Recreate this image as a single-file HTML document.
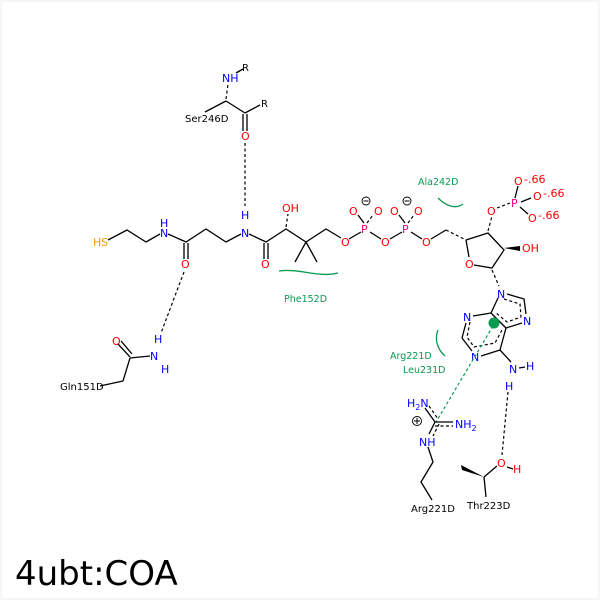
<!DOCTYPE html>
<html><head><meta charset="utf-8"><style>
body{margin:0;background:#fff}
svg{display:block}
text{font-family:"DejaVu Sans","Liberation Sans",sans-serif}
.b{stroke:#000;stroke-width:1.3;fill:none}
.d{stroke:#000;stroke-width:1.2;fill:none;stroke-dasharray:3,2.5}
.g{stroke:#0a9a50;stroke-width:1.3;fill:none}
.gd{stroke:#0a9a50;stroke-width:1.2;fill:none;stroke-dasharray:3,2.5}
.N{fill:#0000ff;font-size:11px}
.O{fill:#ff0000;font-size:11px}
.P{fill:#e0007f;font-size:11px}
.S{fill:#f0a000;font-size:11px}
.K{fill:#000;font-size:10px}
.G{fill:#0a9a50;font-size:9.5px}
</style></head><body>
<svg width="600" height="600" viewBox="0 0 600 600">
<rect x="1" y="1" width="598" height="598" fill="none" stroke="#eee"/>
<!-- Ser246D -->
<line class="b" x1="205" y1="112" x2="226" y2="101"/>
<line class="b" x1="226" y1="101" x2="245" y2="113"/>
<line class="b" x1="245" y1="113" x2="260" y2="105"/>
<line class="b" x1="243" y1="114" x2="243" y2="131"/>
<line class="b" x1="247" y1="114" x2="247" y2="131"/>
<line class="d" x1="226" y1="99" x2="228" y2="84" stroke-width="2"/>
<line class="b" x1="236" y1="73" x2="243" y2="69"/>
<text class="N" x="222" y="82">NH</text>
<text class="K" x="242" y="71" font-size="11">R</text>
<text class="K" x="261" y="107" font-size="11">R</text>
<text class="K" x="185" y="122">Ser246D</text>
<text class="O" x="241" y="140">O</text>
<line class="d" x1="245" y1="143" x2="245" y2="206"/>
<!-- main chain -->
<text class="S" x="93" y="246">HS</text>
<polyline class="b" points="108,240 127,230 146,242 160,234"/>
<text class="N" x="160" y="237">N</text><text class="N" x="160" y="227">H</text>
<polyline class="b" points="168,234 186,242 206,229 226,242 241,234"/>
<line class="b" x1="184" y1="243" x2="184" y2="259"/><line class="b" x1="188" y1="243" x2="188" y2="259"/>
<text class="O" x="181" y="268">O</text>
<text class="N" x="241" y="237">N</text><text class="N" x="241" y="219">H</text>
<polyline class="b" points="249,234 266,242 286,229 306,242 326,229 341,238"/>
<line class="b" x1="264" y1="243" x2="264" y2="259"/><line class="b" x1="268" y1="243" x2="268" y2="259"/>
<text class="O" x="261" y="268">O</text>
<line class="d" x1="286" y1="227" x2="288" y2="214" stroke-width="2.2"/>
<text class="O" x="282" y="212">OH</text>
<line class="b" x1="306" y1="242" x2="295" y2="262"/><line class="b" x1="306" y1="242" x2="317" y2="262"/>
<text class="O" x="341" y="246">O</text>
<line class="b" x1="349" y1="239" x2="361" y2="232"/>
<text class="P" x="361" y="233">P</text>
<line class="b" x1="364" y1="223" x2="358" y2="215"/><line class="d" x1="367" y1="223" x2="373" y2="215"/>
<text class="O" x="349" y="215">O</text><text class="O" x="374" y="215">O</text>
<circle cx="366" cy="201" r="4" fill="none" stroke="#000" stroke-width="0.9"/><line x1="363.5" y1="201" x2="368.5" y2="201" stroke="#000"/>
<line class="b" x1="370" y1="232" x2="381" y2="239"/>
<text class="O" x="381" y="246">O</text>
<line class="b" x1="390" y1="239" x2="402" y2="232"/>
<text class="P" x="402" y="233">P</text>
<line class="b" x1="405" y1="223" x2="399" y2="215"/><line class="d" x1="408" y1="223" x2="414" y2="215"/>
<text class="O" x="390" y="215">O</text><text class="O" x="414" y="215">O</text>
<circle cx="407" cy="201" r="4" fill="none" stroke="#000" stroke-width="0.9"/><line x1="404.5" y1="201" x2="409.5" y2="201" stroke="#000"/>
<line class="b" x1="411" y1="232" x2="422" y2="239"/>
<text class="O" x="422" y="246">O</text>
<line class="b" x1="431" y1="239" x2="446" y2="230"/>
<line class="d" x1="446" y1="230" x2="466" y2="240" stroke-width="2"/>
<!-- ribose -->
<polyline class="b" points="466,240 488,233 504,250 492,268 474,265"/>
<line class="b" x1="466" y1="240" x2="469" y2="257"/>
<text class="O" x="465" y="268">O</text>
<polygon points="504,248 520,246 520,251" fill="#000"/>
<text class="O" x="522" y="252">OH</text>
<line class="d" x1="488" y1="231" x2="492" y2="216" stroke-width="2"/>
<text class="O" x="487" y="215">O</text>
<line class="d" x1="497" y1="208" x2="510" y2="203"/>
<text class="P" x="511" y="207">P</text>
<line class="b" x1="515" y1="198" x2="518" y2="186"/>
<line class="b" x1="521" y1="202" x2="531" y2="198"/>
<line class="b" x1="520" y1="207" x2="528" y2="214"/>
<text class="O" x="514" y="185">O</text><text class="O" x="554" y="0"></text>
<text class="O" x="524" y="183" font-size="8">-.66</text>
<text class="O" x="533" y="200">O</text><text class="O" x="543" y="197" font-size="8">-.66</text>
<text class="O" x="528" y="222">O</text><text class="O" x="538" y="219" font-size="8">-.66</text>
<line class="d" x1="492" y1="270" x2="499" y2="286" stroke-width="2"/>
<!-- adenine -->
<text class="N" x="497" y="298">N</text>
<polyline class="b" points="507,294 524,299 526,314"/>
<text class="N" x="523" y="325">N</text>
<line class="b" x1="522" y1="323" x2="506" y2="328"/>
<line class="b" x1="506" y1="328" x2="491" y2="313"/>
<line class="b" x1="491" y1="313" x2="498" y2="298"/>
<line class="b" x1="491" y1="313" x2="473" y2="316"/>
<text class="N" x="463" y="321">N</text>
<line class="b" x1="466" y1="323" x2="462" y2="338"/>
<line class="b" x1="462" y1="338" x2="472" y2="351"/>
<text class="N" x="471" y="361">N</text>
<line class="b" x1="481" y1="356" x2="500" y2="350"/>
<line class="b" x1="500" y1="350" x2="506" y2="328"/>
<line class="b" x1="500" y1="350" x2="511" y2="362"/>
<polyline class="d" points="504,299 520,304 521,317 507,322 496,313"/>
<polyline class="d" points="470,322 467,337 474,347 495,343 502,330"/>
<circle cx="494" cy="323" r="5.5" fill="#0a9a50"/>
<text class="N" x="509" y="373">N</text>
<line class="b" x1="519" y1="368" x2="525" y2="367"/>
<text class="N" x="526" y="370">H</text>
<text class="N" x="505" y="390">H</text>
<line class="d" x1="508" y1="392" x2="502" y2="455"/>
<!-- Thr -->
<text class="O" x="497" y="467">O</text>
<line class="b" x1="507" y1="467" x2="513" y2="469"/>
<text class="N" x="513" y="473" style="fill:#f00">H</text>
<line class="b" x1="497" y1="466" x2="484" y2="477"/>
<polygon points="484,477 462,470 461,465" fill="#000"/>
<line class="b" x1="484" y1="477" x2="486" y2="497"/>
<text class="K" x="467" y="509">Thr223D</text>
<!-- Arg -->
<line class="gd" x1="493" y1="326" x2="436" y2="422"/>
<text class="N" x="407" y="407">H<tspan font-size="8" dy="3">2</tspan><tspan dy="-3">N</tspan></text>
<line class="b" x1="425" y1="408" x2="435" y2="422"/><line class="d" x1="429" y1="406" x2="438" y2="419"/>
<line class="b" x1="435" y1="422" x2="453" y2="422"/><line class="d" x1="435" y1="426" x2="453" y2="426"/>
<text class="N" x="455" y="428">NH<tspan font-size="8" dy="3">2</tspan></text>
<line class="b" x1="435" y1="422" x2="429" y2="434"/><line class="d" x1="439" y1="424" x2="433" y2="436"/>
<circle cx="417" cy="421" r="4.5" fill="none" stroke="#000" stroke-width="0.9"/><line x1="414" y1="421" x2="420" y2="421" stroke="#000"/><line x1="417" y1="418" x2="417" y2="424" stroke="#000"/>
<text class="N" x="419" y="446">NH</text>
<polyline class="b" points="428,447 433,462 421,482 432,500"/>
<text class="K" x="411" y="512">Arg221D</text>
<!-- Gln -->
<text class="O" x="112" y="345">O</text>
<line class="b" x1="118" y1="344" x2="130" y2="357"/><line class="b" x1="121" y1="341" x2="132" y2="354"/>
<line class="b" x1="130" y1="358" x2="150" y2="356"/>
<text class="N" x="150" y="360">N</text>
<text class="N" x="154" y="343">H</text>
<text class="N" x="161" y="373">H</text>
<line class="b" x1="130" y1="358" x2="123" y2="381"/><line class="b" x1="123" y1="381" x2="100" y2="386"/>
<text class="K" x="60" y="390">Gln151D</text>
<line class="d" x1="184" y1="272" x2="161" y2="333"/>
<!-- hydrophobic -->
<path class="g" d="M279,271 C300,268 318,278 338,273"/>
<text class="G" x="284" y="302">Phe152D</text>
<path class="g" d="M438,198 C445,205 455,210 463,204"/>
<text class="G" x="418" y="185">Ala242D</text>
<path class="g" d="M438,330 C434,340 438,350 445,356"/>
<text class="G" x="390" y="359">Arg221D</text>
<text class="G" x="403" y="373">Leu231D</text>
<text x="15" y="585" style="font-size:34px;fill:#000">4ubt:COA</text>
</svg>
</body></html>
